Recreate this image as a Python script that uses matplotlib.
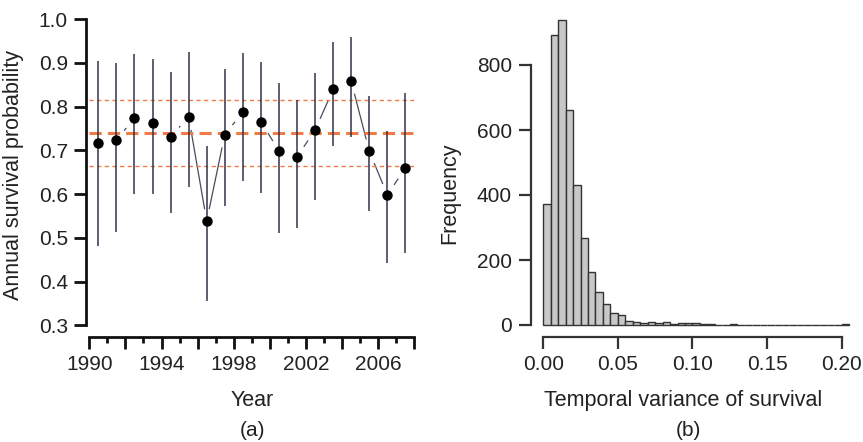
import numpy as np
import matplotlib.pyplot as plt
from matplotlib.ticker import FixedLocator

plt.rcParams['font.family'] = ['Liberation Sans', 'DejaVu Sans']

# panel (a): annual survival estimates with 95% intervals
years = np.arange(1990, 2008) + 0.5
survival = [0.716, 0.724, 0.773, 0.762, 0.730, 0.777, 0.538, 0.736, 0.787,
            0.765, 0.699, 0.685, 0.746, 0.839, 0.858, 0.698, 0.598, 0.659]
lower = [0.481, 0.513, 0.599, 0.599, 0.557, 0.615, 0.356, 0.573, 0.630,
         0.602, 0.512, 0.522, 0.586, 0.710, 0.731, 0.561, 0.442, 0.466]
upper = [0.904, 0.899, 0.919, 0.908, 0.880, 0.925, 0.710, 0.885, 0.923,
         0.902, 0.854, 0.816, 0.877, 0.947, 0.960, 0.825, 0.744, 0.832]
mean_surv = 0.740
mean_ci = [0.663, 0.816]

# panel (b): histogram of temporal variance (bin width 0.005)
bin_edges = np.arange(0, 0.2051, 0.005)
counts = [372, 893, 938, 661, 431, 267, 164, 102, 64, 38, 32, 13, 8, 5, 9,
          6, 9, 3, 7, 5, 7, 4, 3, 0, 0, 2, 0, 0, 0, 0, 0, 0, 0, 0, 0, 0,
          0, 0, 0, 0, 2]

W, H = 863, 442
fig = plt.figure(figsize=(W / 100, H / 100), dpi=100)

def box(x0, x1, ytop, ybot):
    # pixel box -> figure fraction
    return [x0 / W, 1 - ybot / H, (x1 - x0) / W, (ybot - ytop) / H]

txt = '#222222'
orange = '#F27A45'
fs_tick = 15
fs_lab = 15.5

# ---------- (a)
ax1 = fig.add_axes(box(89.3, 414.4, 19, 325.3))
# connecting line, broken around the points by a white halo
ax1.plot(years, survival, color='#4a4a5c', lw=0.9, zorder=1)
ax1.plot(years, survival, 'o', ms=17, color='white', mec='white', zorder=2)
ax1.axhline(mean_surv, color=orange, lw=2.2, ls=(0, (4, 2)), zorder=3)
for v in mean_ci:
    ax1.axhline(v, color=orange, lw=1.0, ls=(0, (3, 2.5)), zorder=3)
ax1.vlines(years, lower, upper, color='#33334a', lw=1.1, zorder=4)
ax1.plot(years, survival, 'o', ms=6.5, color='black', zorder=5)
ax1.set_xlim(1990, 2008)
ax1.set_ylim(0.3, 1.0)
ax1.set_yticks(np.arange(0.3, 1.01, 0.1))
ax1.set_yticklabels([f'{v:.1f}' for v in np.arange(0.3, 1.01, 0.1)])
major = list(range(1990, 2009, 2))
ax1.xaxis.set_major_locator(FixedLocator(major))
ax1.set_xticklabels([str(y) if (y - 1990) % 4 == 0 else '' for y in major])
ax1.xaxis.set_minor_locator(FixedLocator(list(range(1991, 2008, 2))))
ax1.spines['left'].set_position(('outward', 2.4))
ax1.spines['bottom'].set_position(('outward', 8.4))
ax1.spines['left'].set_bounds(0.3, 1.0)
ax1.spines['bottom'].set_bounds(1990, 2008)
for s in ['top', 'right']:
    ax1.spines[s].set_visible(False)
for s in ['left', 'bottom']:
    ax1.spines[s].set_linewidth(2.0)
    ax1.spines[s].set_color('#111111')
ax1.tick_params(which='major', length=8.5, width=2.0, color='#111111',
                labelsize=fs_tick, labelcolor=txt, pad=4.5)
ax1.tick_params(which='minor', length=4, width=2.0, color='#111111')
ax1.set_xlabel('Year', fontsize=fs_lab, color=txt)
ax1.set_ylabel('Annual survival probability', fontsize=fs_lab, color=txt)
ax1.xaxis.set_label_coords(0.5, -0.211)
ax1.yaxis.set_label_coords(-0.2, 0.49)

# ---------- (b)
ax2 = fig.add_axes(box(538.8, 853.6, 16.25, 327.6))
ax2.bar(bin_edges[:-1], counts, width=0.005, align='edge', color='#c8c8c8',
        edgecolor='#333333', linewidth=1.0)
ax2.set_xlim(-0.003, 0.208)
ax2.set_ylim(-8, 950)
ax2.set_xticks([0, 0.05, 0.10, 0.15, 0.20])
ax2.set_xticklabels(['0.00', '0.05', '0.10', '0.15', '0.20'])
ax2.set_yticks([0, 200, 400, 600, 800])
ax2.spines['left'].set_position(('outward', 5.8))
ax2.spines['bottom'].set_position(('outward', 6.5))
ax2.spines['left'].set_bounds(0, 800)
ax2.spines['bottom'].set_bounds(0, 0.2)
for s in ['top', 'right']:
    ax2.spines[s].set_visible(False)
for s in ['left', 'bottom']:
    ax2.spines[s].set_linewidth(1.6)
    ax2.spines[s].set_color('#333333')
ax2.tick_params(length=8.5, width=1.6, color='#333333',
                labelsize=fs_tick, labelcolor=txt, pad=5)
ax2.set_xlabel('Temporal variance of survival', fontsize=fs_lab, color=txt)
ax2.set_ylabel('Frequency', fontsize=fs_lab, color=txt)
ax2.xaxis.set_label_coords(0.458, -0.2)
ax2.yaxis.set_label_coords(-0.248, 0.432)

fig.text(252 / W, 1 - 430 / H, '(a)', ha='center', va='center',
         fontsize=fs_tick, color=txt)
fig.text(688 / W, 1 - 430 / H, '(b)', ha='center', va='center',
         fontsize=fs_tick, color=txt)

fig.savefig('out.png', dpi=100)
